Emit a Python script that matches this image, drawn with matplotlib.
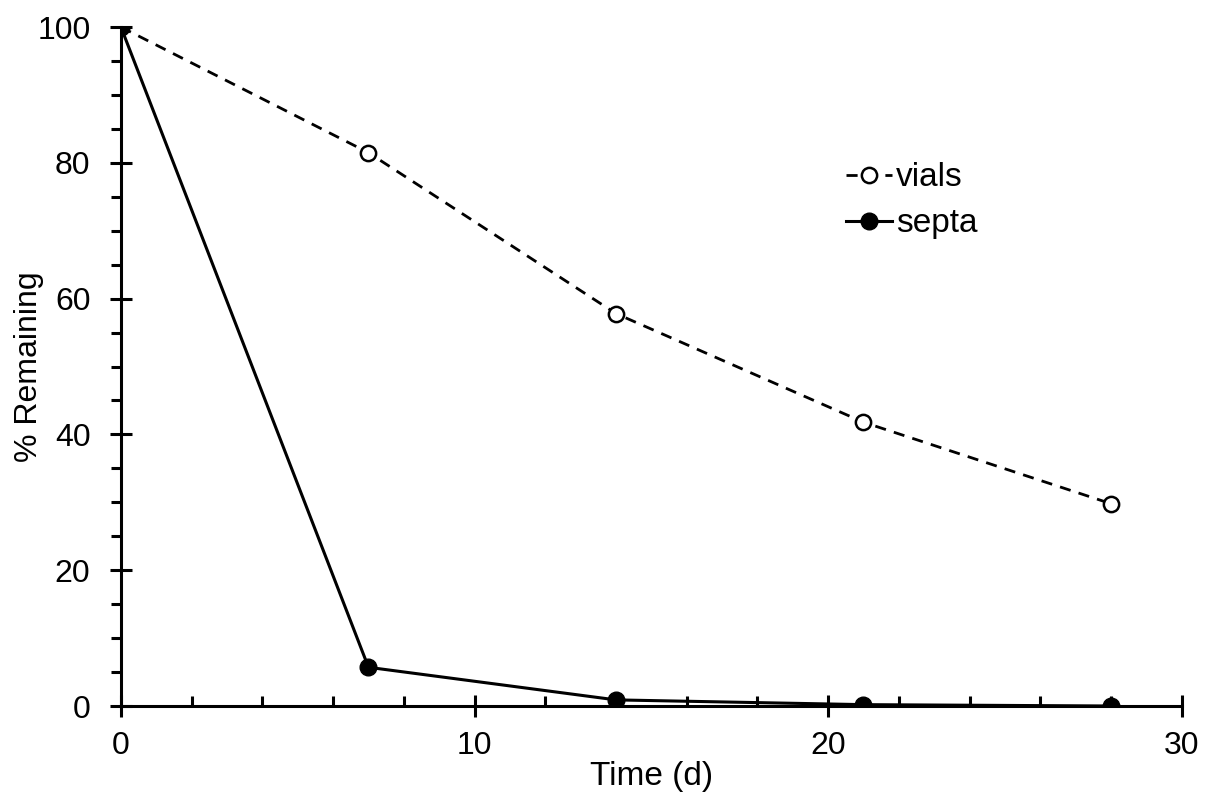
import matplotlib.pyplot as plt
from matplotlib.ticker import MultipleLocator

plt.rcParams['font.family'] = ['Liberation Sans', 'DejaVu Sans']

days = [0, 7, 14, 21, 28]
vials = [100, 81.5, 57.8, 41.8, 29.8]
septa = [100, 5.7, 0.9, 0.2, 0.0]

fig = plt.figure(figsize=(12.12, 8.01), dpi=100)
ax = fig.add_axes([0.0998, 0.1186, 0.8752, 0.8476])

ax.plot(days, vials, color='black', linestyle=(0, (4, 3)), linewidth=2,
        marker='o', markersize=11, markerfacecolor='white',
        markeredgecolor='black', markeredgewidth=1.8, label='vials', zorder=3)
ax.plot(days, septa, color='black', linestyle='-', linewidth=2.2,
        marker='o', markersize=12, markerfacecolor='black',
        markeredgecolor='black', label='septa', zorder=3)

ax.set_xlim(0, 30)
ax.set_ylim(0, 100)
ax.spines['top'].set_visible(False)
ax.spines['right'].set_visible(False)
for s in ['left', 'bottom']:
    ax.spines[s].set_linewidth(2.2)

ax.xaxis.set_major_locator(MultipleLocator(10))
ax.xaxis.set_minor_locator(MultipleLocator(2))
ax.yaxis.set_major_locator(MultipleLocator(20))
ax.yaxis.set_minor_locator(MultipleLocator(5))
ax.tick_params(axis='x', which='major', direction='inout', length=16, width=2.2,
               labelsize=23, pad=10)
ax.tick_params(axis='x', which='minor', direction='in', length=7, width=2.2)
ax.tick_params(axis='y', which='major', direction='inout', length=16, width=2.2,
               labelsize=23, pad=14)
ax.tick_params(axis='y', which='minor', direction='out', length=7, width=2.2)

ax.set_xlabel('Time (d)', fontsize=24, labelpad=0)
ax.set_ylabel('% Remaining', fontsize=23)
ax.yaxis.set_label_coords(-0.073, 0.5)

ax.legend(loc='upper left', bbox_to_anchor=(0.655, 0.845), frameon=False,
          fontsize=24, handlelength=1.4, handletextpad=0.1, labelspacing=0.45)

fig.savefig('out.png', dpi=100)
